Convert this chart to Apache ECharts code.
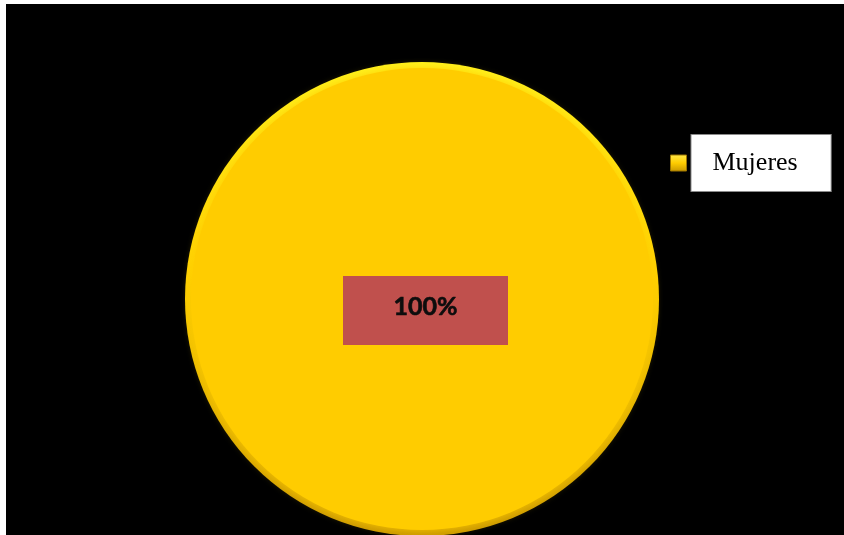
<!DOCTYPE html>
<html>
<head>
<meta charset="utf-8">
<script src="https://cdn.jsdelivr.net/npm/echarts@6/dist/echarts.min.js"></script>
<style>
  html, body { margin: 0; padding: 0; background: #fff; }
  #wrap { position: relative; width: 844px; height: 535px; background: #fff; overflow: hidden; }
  #chart { position: absolute; left: 6px; top: 4px; width: 838px; height: 531px; background: #000; }
</style>
</head>
<body>
<div id="wrap"><div id="chart"></div></div>
<script>
// Single-category share of respondents
const categories = ['Mujeres'];
const values = [100];
const percentLabels = ['100%'];

const chart = echarts.init(document.getElementById('chart'), null, { renderer: 'canvas' });

const pieData = categories.map((name, i) => ({ name: name, value: values[i] }));

const option = {
  backgroundColor: '#000',
  animation: false,
  legend: {
    data: categories,
    orient: 'vertical',
    left: 664,
    top: 130,
    padding: 0,
    itemWidth: 16,
    itemHeight: 16,
    icon: 'rect',
    selectedMode: false,
    itemStyle: {
      color: {
        type: 'linear', x: 0, y: 0, x2: 0, y2: 1,
        colorStops: [
          { offset: 0, color: '#FFE84A' },
          { offset: 0.5, color: '#FFCC00' },
          { offset: 1, color: '#C99800' }
        ]
      },
      borderColor: '#9C7400',
      borderWidth: 1
    },
    textStyle: {
      fontFamily: '"Liberation Serif", "Times New Roman", serif',
      fontSize: 26,
      color: '#000',
      backgroundColor: '#fff',
      borderColor: '#8a8a8a',
      borderWidth: 1,
      padding: [0, 33, 0, 21],
      height: 56,
      lineHeight: 56
    }
  },
  series: [
    {
      // soft rim: bright at the top, darker toward the bottom
      type: 'pie',
      silent: true,
      center: [416, 295],
      radius: [0, 237],
      label: { show: false },
      labelLine: { show: false },
      itemStyle: {
        color: {
          type: 'linear', x: 0, y: 0, x2: 0, y2: 1,
          colorStops: [
            { offset: 0, color: '#FFF21E' },
            { offset: 0.45, color: '#FFD000' },
            { offset: 1, color: '#C99700' }
          ]
        }
      },
      data: pieData
    },
    {
      type: 'pie',
      silent: true,
      center: [416, 295],
      radius: [0, 231],
      itemStyle: {
        color: '#FFCC00',
        shadowBlur: 8,
        shadowColor: 'rgba(255,204,0,0.9)'
      },
      labelLine: { show: false },
      label: {
        show: true,
        position: 'center',
        offset: [3.5, 11.5],
        formatter: (p) => '{v|' + percentLabels[p.dataIndex] + '}\n{gap|}',
        backgroundColor: '#C0504D',
        width: 165,
        align: 'center',
        padding: 0,
        rich: {
          v: {
            fontFamily: 'Lato, "Open Sans", sans-serif',
            fontWeight: 'bold',
            fontSize: 25,
            color: '#0d0d0d',
            textBorderColor: '#0d0d0d',
            textBorderWidth: 0.6,
            lineHeight: 61,
            height: 61
          },
          gap: {
            lineHeight: 8,
            height: 8,
            fontSize: 1
          }
        }
      },
      data: pieData
    }
  ]
};

chart.setOption(option);
</script>
</body>
</html>
